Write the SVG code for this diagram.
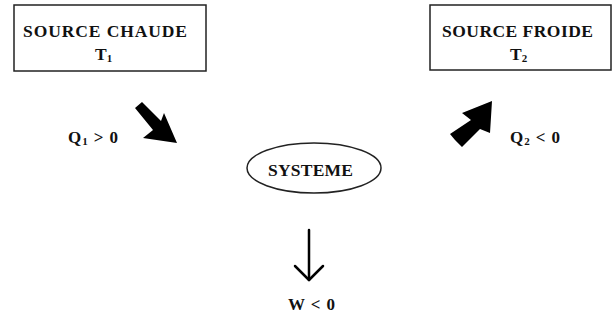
<svg xmlns="http://www.w3.org/2000/svg" width="612" height="320" viewBox="0 0 612 320">
  <style>
    .box { fill: #ffffff; stroke: #222222; stroke-width: 1.5; }
    .lbl { font-family: "Liberation Serif", "Times New Roman", serif; font-weight: bold; fill: #111111; }
    .big { font-size: 17.5px; }
    .sml { font-size: 17px; }
    .block { fill: #000000; }
    .thin { fill: none; stroke: #000000; stroke-width: 2.5; stroke-linecap: round; stroke-linejoin: round; }
  </style>
  <rect width="612" height="320" fill="#ffffff"/>

  <g id="source-chaude">
    <rect class="box" x="14" y="5" width="192" height="66"/>
    <text class="lbl big" x="23" y="37" textLength="164" lengthAdjust="spacing">SOURCE CHAUDE</text>
    <text class="lbl big" x="95" y="60">T<tspan font-size="11" dy="2">1</tspan></text>
  </g>

  <g id="source-froide">
    <rect class="box" x="430" y="5" width="181" height="65"/>
    <text class="lbl big" x="442" y="37" textLength="151" lengthAdjust="spacing">SOURCE FROIDE</text>
    <text class="lbl big" x="510" y="60">T<tspan font-size="11" dy="2">2</tspan></text>
  </g>

  <g id="systeme">
    <ellipse class="box" cx="314" cy="168" rx="67" ry="25"/>
    <text class="lbl big" x="268" y="176" textLength="85" lengthAdjust="spacing">SYSTEME</text>
  </g>

  <g id="connectors">
    <!-- heat in from the hot source -->
    <polygon class="block" points="135,108 142,102 161,121 164,113 177,143 143,138 153,130"/>
    <!-- heat out to the cold source -->
    <polygon class="block" points="455,140 462,147 480,129 490,133 492,101 462,113 471,120 450,134"/>
    <!-- work -->
    <line class="thin" x1="309" y1="230" x2="309" y2="280"/>
    <polyline class="thin" points="295,266 309,280 323,266"/>
  </g>

  <g id="labels">
    <text class="lbl sml" x="68" y="143" textLength="50" lengthAdjust="spacing">Q<tspan font-size="11" dy="2">1</tspan><tspan dy="-2"> &gt; 0</tspan></text>
    <text class="lbl sml" x="510" y="143" textLength="50" lengthAdjust="spacing">Q<tspan font-size="11" dy="2">2</tspan><tspan dy="-2"> &lt; 0</tspan></text>
    <text class="lbl sml" x="288" y="310" textLength="47" lengthAdjust="spacing">W &lt; 0</text>
  </g>
</svg>
